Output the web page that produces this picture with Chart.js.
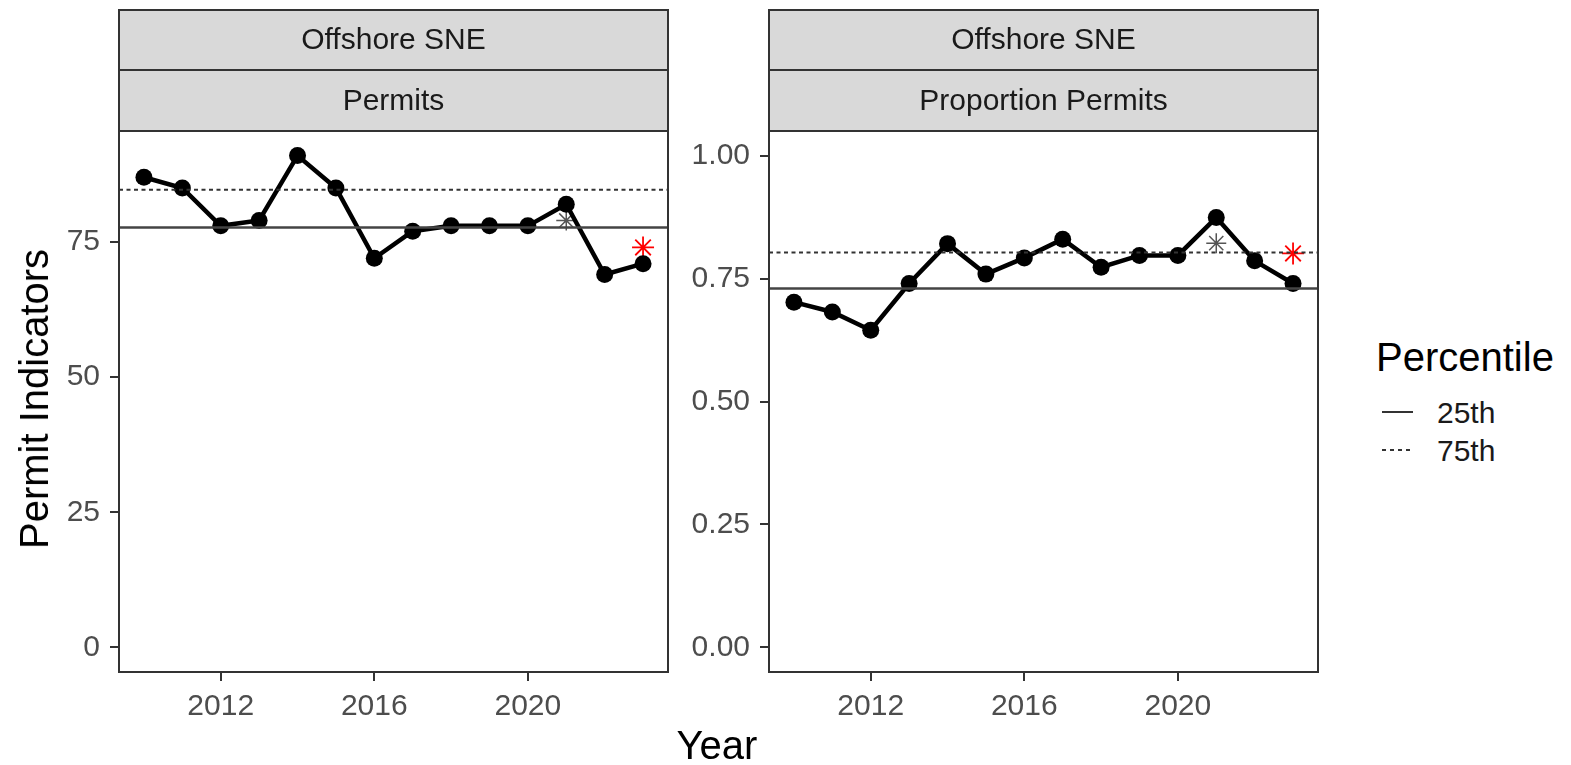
<!DOCTYPE html>
<html>
<head>
<meta charset="utf-8">
<script src="https://cdn.jsdelivr.net/npm/chart.js@4"></script>
<style>
  body { margin: 0; width: 1571px; height: 765px; background: #fff; position: relative; overflow: hidden;
         font-family: "Liberation Sans", Arial, sans-serif; }
  canvas { position: absolute; top: 0; }
  .ytitle { position: absolute; left: 34px; top: 399px; transform: translate(-50%, -50%) rotate(-90deg);
            font-size: 40px; line-height: 40px; color: #000; white-space: nowrap; }
  .xtitle { position: absolute; left: 717px; top: 745px; transform: translate(-50%, -50%); font-size: 40px; line-height: 40px; color: #000; }
  .legend-title { position: absolute; left: 1376px; top: 337px; font-size: 40px; line-height: 40px; color: #000; }
  .legend-key { position: absolute; left: 1382px; width: 31px; height: 2px; }
  .legend-label { position: absolute; left: 1437px; font-size: 30px; line-height: 30px; color: #1a1a1a; }
</style>
</head>
<body>
<canvas id="permits" width="673" height="765" style="left:0"></canvas>
<canvas id="proportion" width="643" height="765" style="left:680px"></canvas>
<div class="ytitle">Permit Indicators</div>
<div class="xtitle">Year</div>
<div class="legend-title">Percentile</div>
<div class="legend-key" style="top:411px; background:#333"></div>
<div class="legend-label" style="top:398px">25th</div>
<div class="legend-key" style="top:449px; background:repeating-linear-gradient(to right, #333 0 4px, transparent 4px 8px)"></div>
<div class="legend-label" style="top:436px">75th</div>
<script>
const years = [2010, 2011, 2012, 2013, 2014, 2015, 2016, 2017, 2018, 2019, 2020, 2021, 2022, 2023];
const yearTicks = [2012, 2016, 2020];

const permits = [87, 85, 78, 79, 91, 85, 72, 77, 78, 78, 78, 82, 69, 71];
const permitsP25 = 77.7;
const permitsP75 = 84.7;
const permitsGrayStar = { year: 2021, value: 79 };
const permitsRedStar = { year: 2023, value: 74 };
const permitsTicks = [0, 25, 50, 75];

const proportion = [0.702, 0.682, 0.645, 0.740, 0.821, 0.759, 0.792, 0.830, 0.773, 0.797, 0.797, 0.874, 0.786, 0.740];
const proportionP25 = 0.730;
const proportionP75 = 0.803;
const proportionGrayStar = { year: 2021, value: 0.822 };
const proportionRedStar = { year: 2023, value: 0.801 };
const proportionTicks = [0, 0.25, 0.5, 0.75, 1];

const font = '"Liberation Sans", Arial, sans-serif';

// ggplot-ish 5% expansion
const expand = (lo, hi) => [lo - (hi - lo) * 0.05, hi + (hi - lo) * 0.05];
const [xMin, xMax] = expand(years[0], years[years.length - 1]);

const panelDecor = {
  id: 'panelDecor',
  afterDraw(chart, args, opts) {
    const { ctx, chartArea: a } = chart;
    ctx.save();
    ctx.lineWidth = 2;
    ctx.strokeStyle = '#333';
    // facet strips
    const strips = [[10, 70], [70, 131]];
    strips.forEach(([t, b], i) => {
      ctx.fillStyle = '#d9d9d9';
      ctx.fillRect(a.left, t, a.right - a.left, b - t);
      ctx.strokeRect(a.left, t, a.right - a.left, b - t);
      ctx.fillStyle = '#1a1a1a';
      ctx.font = '30px ' + font;
      ctx.textAlign = 'center';
      ctx.textBaseline = 'middle';
      ctx.fillText(opts.labels[i], (a.left + a.right) / 2, (t + b) / 2 + 1);
    });
    ctx.strokeRect(a.left, a.top, a.right - a.left, a.bottom - a.top);
    ctx.restore();
  },
};

const makePanel = (id, values, p25, p75, grayStar, redStar, ticks, limits, labels, yWidth, fmt) => {
  const [yMin, yMax] = expand(limits[0], limits[1]);
  return new Chart(document.getElementById(id), {
    type: 'line',
    data: {
      datasets: [{
        data: [{ x: xMin, y: p25 }, { x: xMax, y: p25 }],
        borderColor: '#444',
        borderWidth: 2.5,
        pointRadius: 0,
      }, {
        data: [{ x: xMin, y: p75 }, { x: xMax, y: p75 }],
        borderColor: '#333',
        borderWidth: 2,
        borderDash: [4, 3.5],
        pointRadius: 0,
      }, {
        data: years.map((yr, i) => ({ x: yr, y: values[i] })),
        borderColor: '#000',
        borderWidth: 4.5,
        pointRadius: 8.5,
        pointBackgroundColor: '#000',
        pointBorderWidth: 0,
      }, {
        data: [{ x: grayStar.year, y: grayStar.value }],
        showLine: false,
        pointStyle: 'star',
        pointRadius: 10,
        pointBorderWidth: 1.5,
        pointBorderColor: '#555',
      }, {
        data: [{ x: redStar.year, y: redStar.value }],
        showLine: false,
        pointStyle: 'star',
        pointRadius: 11,
        pointBorderWidth: 1.8,
        pointBorderColor: '#ff0000',
      }],
    },
    options: {
      responsive: false,
      animation: false,
      layout: { autoPadding: false, padding: { top: 131, right: 5, bottom: 43, left: 0 } },
      plugins: {
        legend: { display: false },
        tooltip: { enabled: false },
        panelDecor: { labels },
      },
      scales: {
        x: {
          type: 'linear',
          min: xMin,
          max: xMax,
          afterBuildTicks: (s) => { s.ticks = yearTicks.map((v) => ({ value: v })); },
          afterFit: (s) => { s.height = 50; s.paddingLeft = 0; s.paddingRight = 0; },
          grid: { drawOnChartArea: false, tickLength: 9, color: '#333', lineWidth: 2 },
          border: { display: false },
          ticks: { color: '#4d4d4d', font: { size: 30, family: font }, padding: 8, maxRotation: 0, callback: (v) => String(v) },
        },
        y: {
          min: yMin,
          max: yMax,
          afterBuildTicks: (s) => { s.ticks = ticks.map((v) => ({ value: v })); },
          afterFit: (s) => { s.width = yWidth; },
          grid: { drawOnChartArea: false, tickLength: 9, color: '#333', lineWidth: 2 },
          border: { display: false },
          ticks: { color: '#4d4d4d', font: { size: 30, family: font }, padding: 10, callback: fmt },
        },
      },
    },
    plugins: [panelDecor],
  });
};

makePanel('permits', permits, permitsP25, permitsP75, permitsGrayStar, permitsRedStar,
  permitsTicks, [0, 91], ['Offshore SNE', 'Permits'], 119, (v) => String(v));
makePanel('proportion', proportion, proportionP25, proportionP75, proportionGrayStar, proportionRedStar,
  proportionTicks, [0, 1], ['Offshore SNE', 'Proportion Permits'], 89, (v) => v.toFixed(2));
</script>
</body>
</html>
